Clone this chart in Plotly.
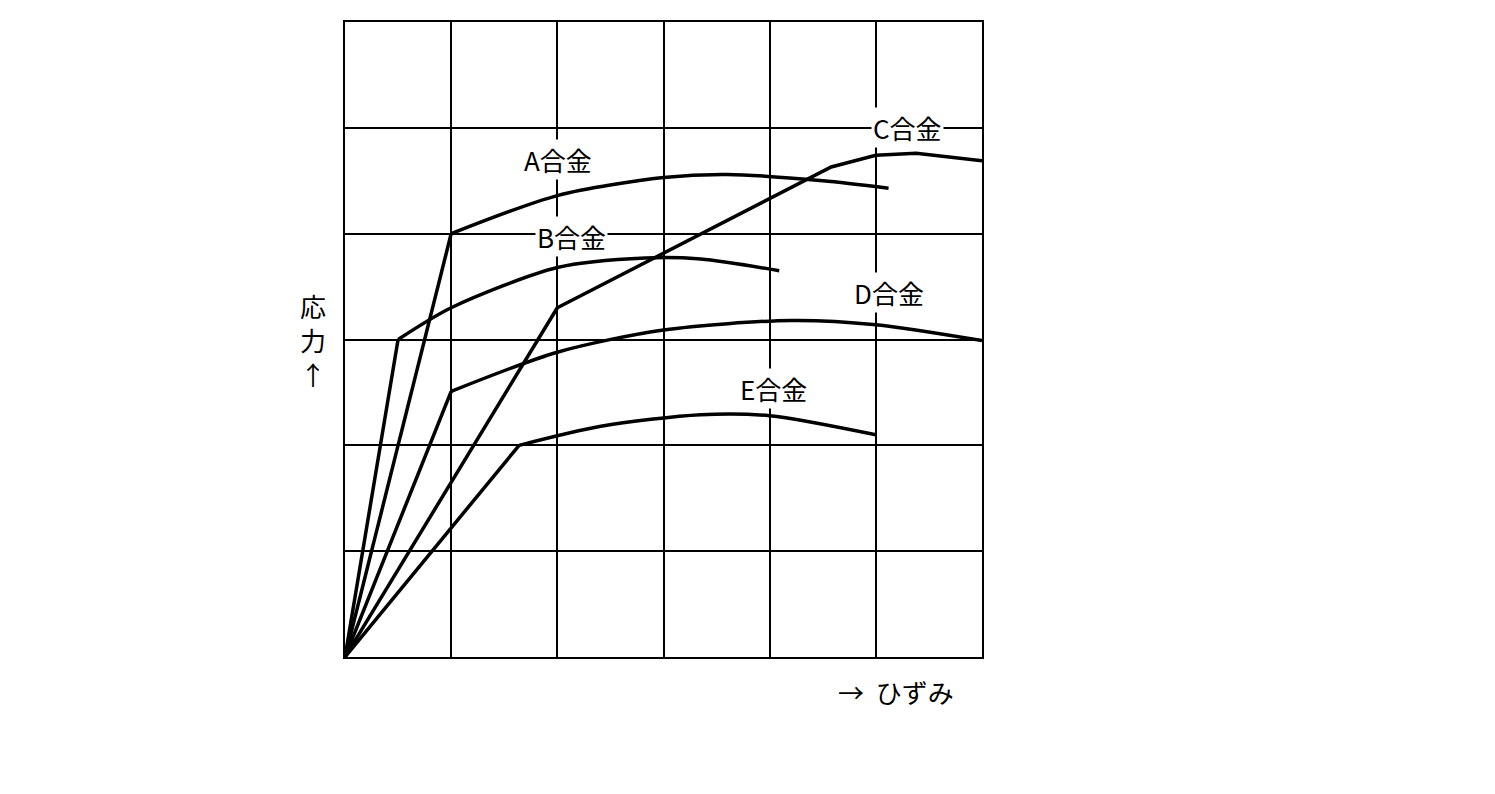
import plotly.graph_objects as go

# strain / stress in grid units (6 x 6 grid)
knee = {"A": (1.0, 4.0), "B": (0.5, 3.0), "C": (2.0, 3.3), "D": (1.0, 2.51), "E": (1.64, 2.0)}
curve_x = {
    "A": [1.0, 2.0, 3.0, 3.6, 4.5, 5.12],
    "B": [0.5, 1.0, 2.0, 2.83, 3.35, 4.09],
    "C": [2.0, 4.58, 5.0, 5.38, 6.0],
    "D": [1.0, 2.0, 3.0, 4.2, 5.0, 6.0],
    "E": [1.64, 2.41, 3.35, 4.0, 5.0],
}
curve_y = {
    "A": [4.0, 4.36, 4.53, 4.56, 4.5, 4.43],
    "B": [3.0, 3.3, 3.68, 3.77, 3.76, 3.65],
    "C": [3.3, 4.63, 4.74, 4.76, 4.69],
    "D": [2.51, 2.88, 3.09, 3.18, 3.14, 2.99],
    "E": [2.0, 2.18, 2.29, 2.28, 2.1],
}
labels = {"A": (2.01, 4.7), "B": (2.13, 3.97), "C": (5.3, 5.0), "D": (5.12, 3.44), "E": (4.04, 2.54)}

fig = go.Figure()
for k in knee:
    kx, ky = knee[k]
    fig.add_trace(go.Scatter(x=[0, kx], y=[0, ky], mode="lines",
                             line=dict(color="black", width=3.5)))
    shape = "linear" if k == "C" else "spline"
    fig.add_trace(go.Scatter(x=curve_x[k], y=curve_y[k], mode="lines",
                             line=dict(color="black", width=3.5, shape=shape, smoothing=0.8)))

for k, (lx, ly) in labels.items():
    fig.add_annotation(x=lx, y=ly, text=k + "合金", showarrow=False,
                       font=dict(size=26, color="black"), bgcolor="white", borderpad=1)

fig.add_annotation(xref="paper", yref="paper", x=-0.05, y=0.5, xanchor="center",
                   text="応<br>力<br>↑", showarrow=False,
                   font=dict(size=26, color="black"), align="center")
fig.add_annotation(xref="paper", yref="paper", x=0.865, y=-0.055, xanchor="center",
                   yanchor="middle", text="→  ひずみ", showarrow=False,
                   font=dict(size=26, color="black"))

ax = dict(range=[0, 6], dtick=1, showgrid=True, gridcolor="black", gridwidth=1.5,
          showline=True, linecolor="black", linewidth=1.5, mirror=True,
          showticklabels=False, zeroline=False, ticks="")
fig.update_layout(width=1495, height=794, showlegend=False,
                  margin=dict(l=337, r=521, t=12, b=145),
                  plot_bgcolor="white", paper_bgcolor="white",
                  font=dict(family="Noto Sans CJK JP"),
                  xaxis=ax, yaxis=ax)
fig.write_html("out.html")
